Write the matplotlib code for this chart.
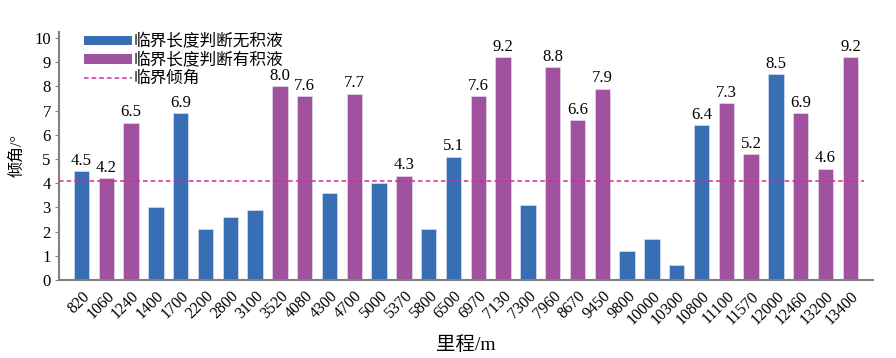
#!/usr/bin/env python3
"""Bar chart: dip angle per mileage, coloured by liquid-loading verdict."""
import matplotlib
matplotlib.use("Agg")
import matplotlib.pyplot as plt
from matplotlib.patches import Patch
from matplotlib.lines import Line2D

plt.rcParams["font.family"] = ["Liberation Serif", "Noto Sans CJK SC"]

MILEAGE = ["820", "1060", "1240", "1400", "1700", "2200", "2800", "3100",
           "3520", "4080", "4300", "4700", "5000", "5370", "5800", "6500",
           "6970", "7130", "7300", "7960", "8670", "9450", "9800", "10000",
           "10300", "10800", "11100", "11570", "12000", "12460", "13200", "13400"]
ANGLE = [4.5, 4.2, 6.5, 3.0, 6.9, 2.1, 2.6, 2.9,
         8.0, 7.6, 3.6, 7.7, 4.0, 4.3, 2.1, 5.1,
         7.6, 9.2, 3.1, 8.8, 6.6, 7.9, 1.2, 1.7,
         0.6, 6.4, 7.3, 5.2, 8.5, 6.9, 4.6, 9.2]
# 1 = 临界长度判断有积液, 0 = 无积液
HAS_LIQUID = [0, 1, 1, 0, 0, 0, 0, 0,
              1, 1, 0, 1, 0, 1, 0, 0,
              1, 1, 0, 1, 1, 1, 0, 0,
              0, 0, 1, 1, 0, 1, 1, 1]
CRITICAL = 4.1

BLUE = "#376EB4"
PURPLE = "#A0529E"
LINE = "#D12C9A"
GREY = "#808080"


def main():
    fig = plt.figure(figsize=(8.96, 3.58), dpi=100)
    ax = fig.add_axes([0.066, 0.218, 0.908, 0.693])

    xs = range(len(MILEAGE))
    colors = [PURPLE if h else BLUE for h in HAS_LIQUID]
    ax.bar(xs, ANGLE, width=0.62, color=colors, edgecolor="#e8e8f0", linewidth=0.4)

    for x, v in zip(xs, ANGLE):
        if v > CRITICAL:
            ax.text(x, v + 0.1, f"{v:.1f}", ha="center", va="bottom", fontsize=12)

    ax.hlines(CRITICAL, -0.9, 31.55, colors=LINE, linestyles=(0, (3, 2)), lw=1.1)

    ax.set_xlim(-0.9, 31.9)
    ax.set_ylim(0, 10.25)
    ax.set_yticks(range(0, 11))
    ax.set_xticks(list(xs))
    ax.set_xticklabels(MILEAGE, rotation=45, ha="right", rotation_mode="anchor", fontsize=11.5)
    ax.tick_params(axis="x", length=0, pad=6)
    ax.tick_params(axis="y", length=3, color=GREY, labelsize=12, pad=3)

    for s in ("top", "right"):
        ax.spines[s].set_visible(False)
    for s in ("left", "bottom"):
        ax.spines[s].set_color(GREY)
        ax.spines[s].set_linewidth(1.5)

    ax.set_ylabel("倾角/°", fontsize=11.5, labelpad=6)
    ax.set_xlabel("里程/m", fontsize=14, labelpad=6)

    handles = [
        Patch(facecolor=BLUE, label="临界长度判断无积液"),
        Patch(facecolor=PURPLE, label="临界长度判断有积液"),
        Line2D([0], [0], color=LINE, ls=(0, (3, 2)), lw=1.1, label="临界倾角"),
    ]
    ax.legend(handles=handles, loc="upper left", bbox_to_anchor=(0.018, 1.03),
              frameon=False, fontsize=12, handlelength=2.9, handleheight=0.5,
              handletextpad=0.1, labelspacing=0.14, borderaxespad=0.2)

    fig.savefig("out.png", dpi=100)
    plt.close(fig)


if __name__ == "__main__":
    main()
